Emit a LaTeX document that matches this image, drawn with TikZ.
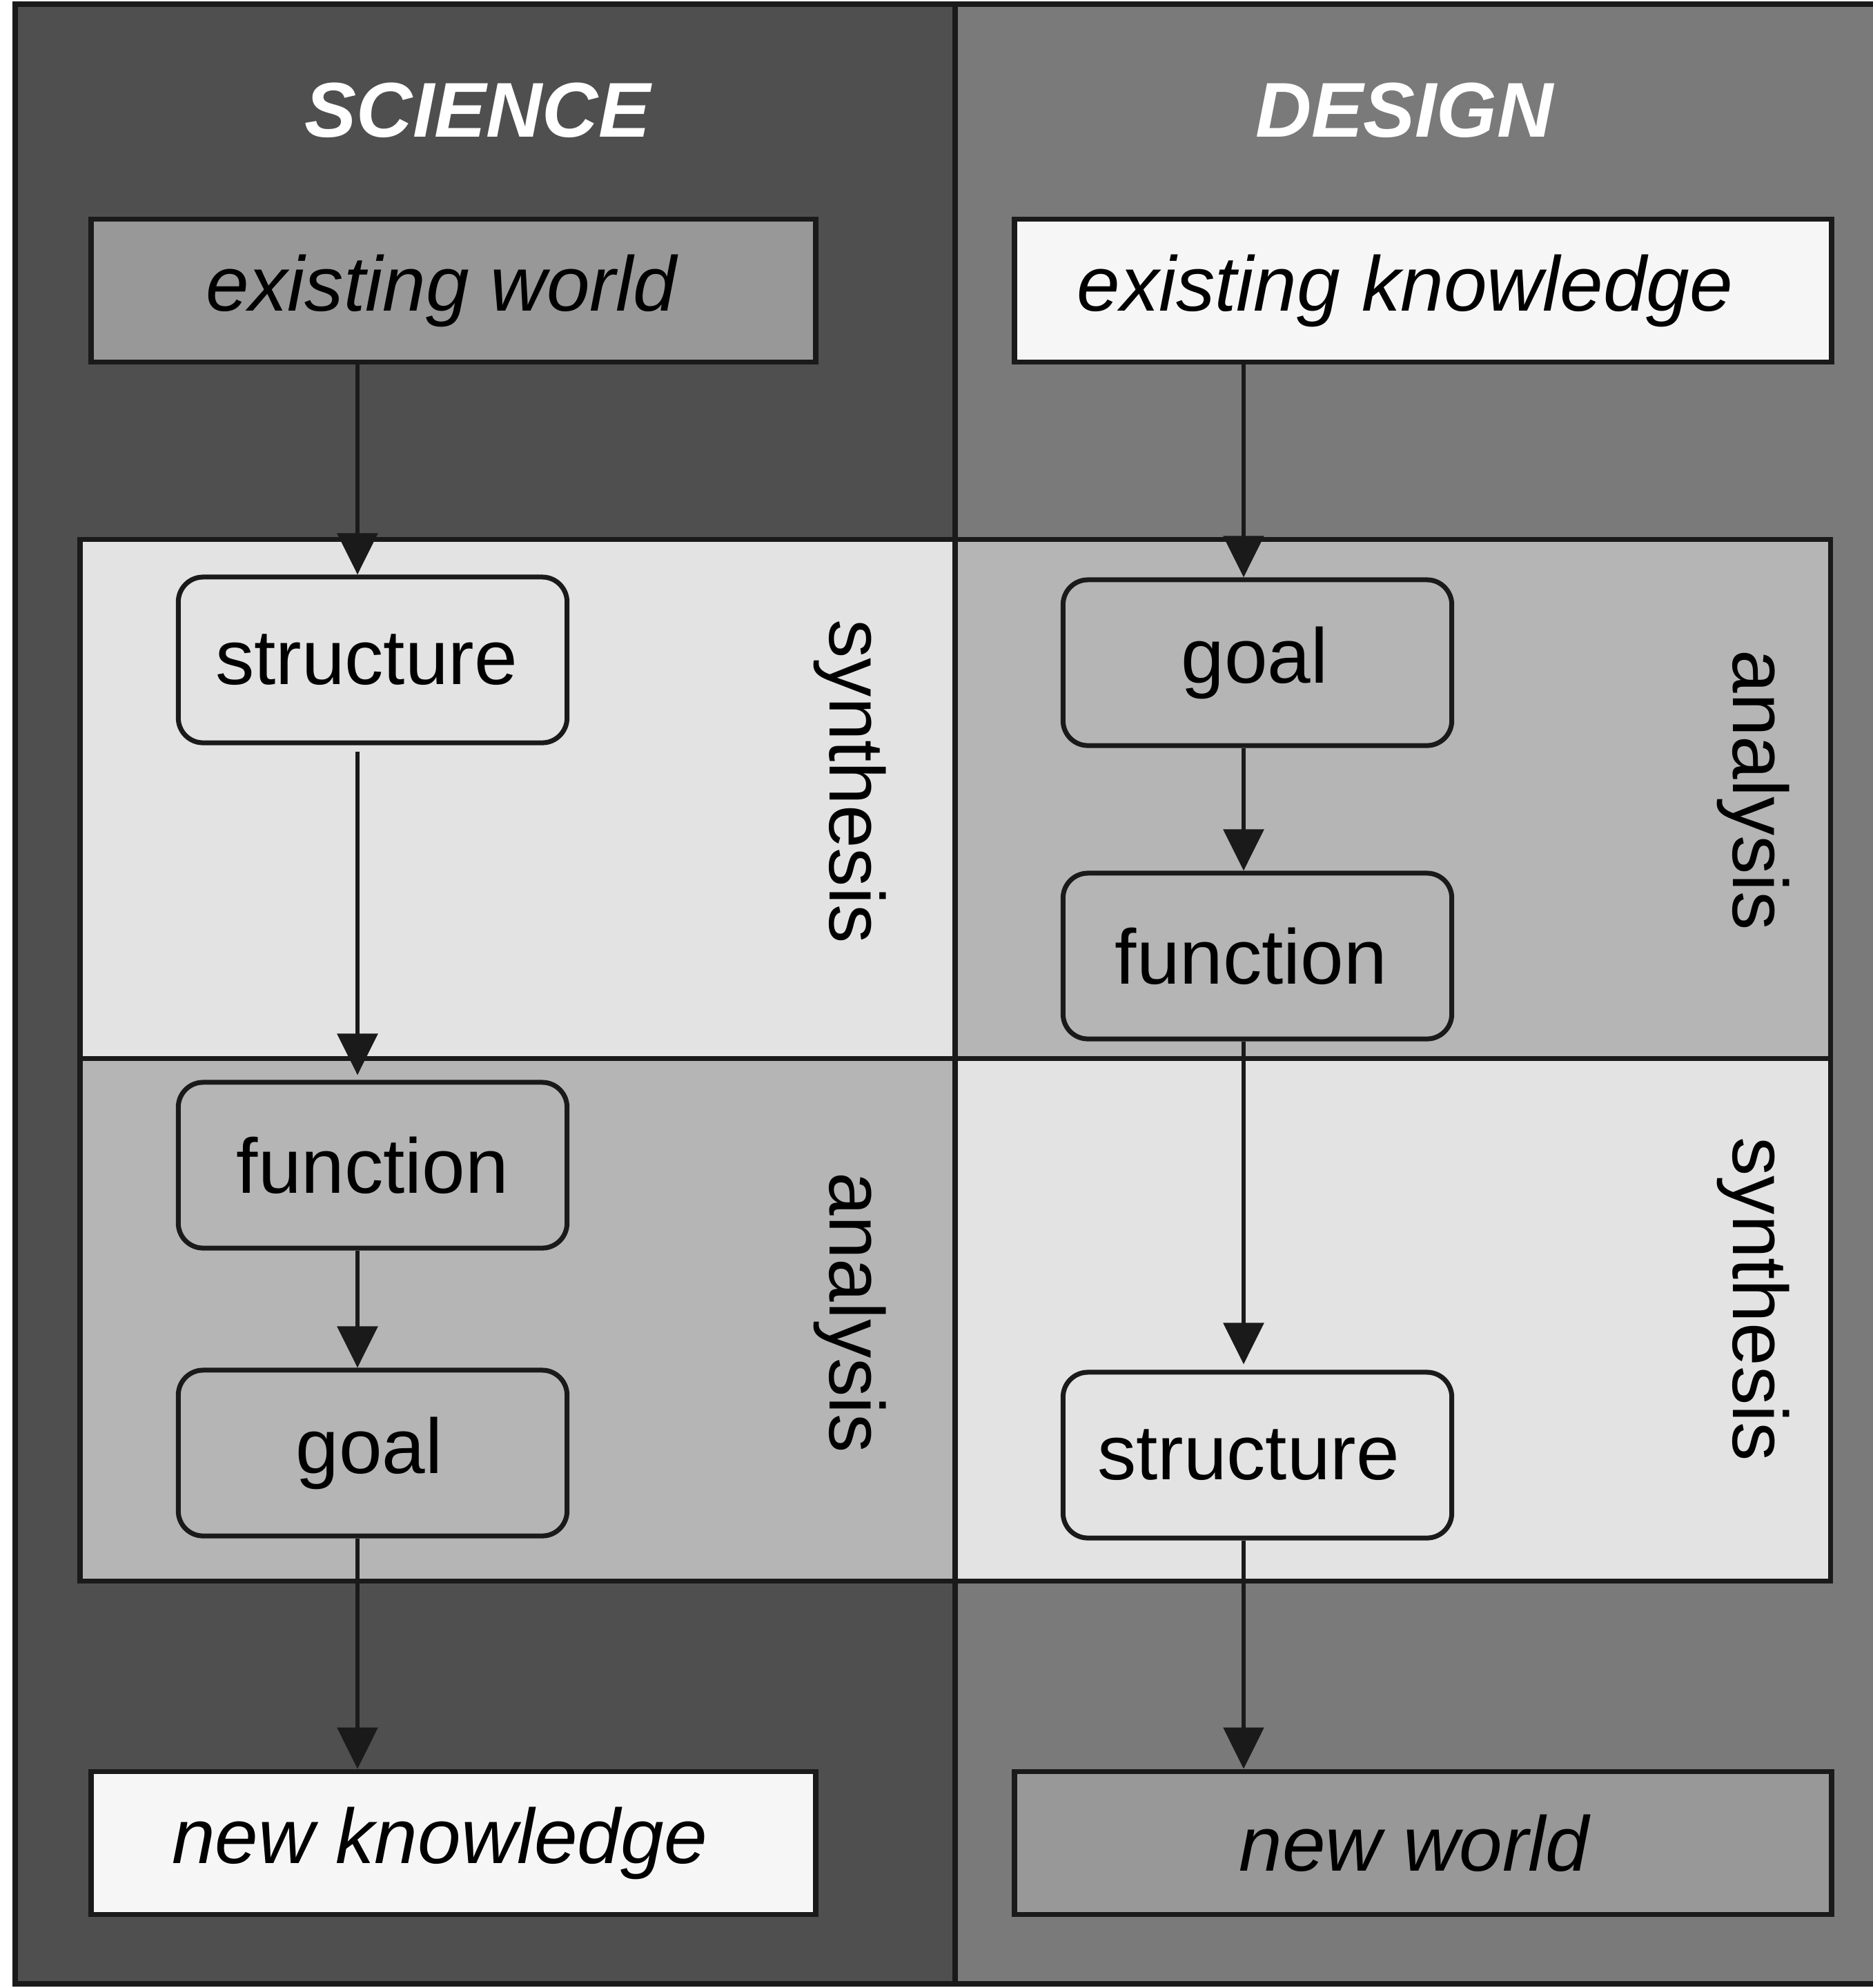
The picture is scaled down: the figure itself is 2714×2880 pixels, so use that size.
\documentclass[tikz,border=0pt]{standalone}
\usepackage{fontspec}
\setmainfont{Liberation Sans}
\usetikzlibrary{arrows.meta}
\definecolor{pdark}{RGB}{79,79,79}
\definecolor{pright}{RGB}{122,122,122}
\definecolor{blight}{RGB}{227,227,227}
\definecolor{bmid}{RGB}{181,181,181}
\definecolor{bworld}{RGB}{152,152,152}
\definecolor{bknow}{RGB}{246,246,246}
\definecolor{ink}{RGB}{26,26,26}
\begin{document}
\begin{tikzpicture}[x=0.01cm,y=-0.01cm,
  every node/.style={font=\fontsize{32}{38}\selectfont},
  rectbox/.style={draw=ink, line width=2.2pt, inner sep=0pt, minimum height=2.07cm,
    font=\fontsize{32}{38}\selectfont\itshape},
  stagebox/.style={draw=ink, line width=2pt, rounded corners=0.36cm, inner sep=0pt,
    minimum width=5.63cm, minimum height=2.4cm},
  flow/.style={draw=ink, line width=1.7pt, -{Triangle[width=0.58cm,length=0.6cm]}},
  phase/.style={rotate=-90, inner sep=0pt},
  titletext/.style={text=white, inner sep=0pt, font=\fontsize{32}{38}\selectfont\bfseries\itshape},
  frameline/.style={draw=ink, line width=2.4pt},
  bandline/.style={draw=ink, line width=2pt}]
\useasboundingbox (0,0) rectangle (2714,2880);
% panels
\fill[pdark] (22,6) rectangle (1384,2874);
\fill[pright] (1384,6) rectangle (2730,2874);
% bands
\fill[blight] (116,781) rectangle (1384,1533);
\fill[bmid] (116,1533) rectangle (1384,2290);
\fill[bmid] (1384,781) rectangle (2652,1533);
\fill[blight] (1384,1533) rectangle (2652,2290);
\draw[bandline] (116,781) rectangle (2652,2290);
\draw[bandline] (116,1533) -- (2652,1533);
% frame
\draw[frameline] (2730,6) -- (22,6) -- (22,2874) -- (2730,2874);
\draw[frameline] (1384,6) -- (1384,2874);
% titles
\node[titletext] (sci) at (692,160) {SCIENCE};
\node[titletext] (des) at (2035,160) {DESIGN};
% outer boxes
\node[rectbox, fill=bworld, minimum width=10.5cm] (ew) at (657,421) {existing world\kern0.36cm\relax};
\node[rectbox, fill=bknow, minimum width=11.84cm] (ek) at (2062,421) {existing knowledge\kern0.52cm\relax};
\node[rectbox, fill=bknow, minimum width=10.5cm] (nk) at (657,2670) {new knowledge\kern0.4cm\relax};
\node[rectbox, fill=bworld, minimum width=11.84cm] (nw) at (2062,2670) {new world\kern0.26cm\relax};
% stage boxes left
\node[stagebox, fill=blight] (sL) at (540,956) {structure\kern0.18cm\relax};
\node[stagebox, fill=bmid] (fL) at (540,1688) {function};
\node[stagebox, fill=bmid] (gL) at (540,2105) {goal\kern0.1cm\relax};
% stage boxes right
\node[stagebox, fill=bmid] (gR) at (1822,960) {goal\kern0.08cm\relax};
\node[stagebox, fill=bmid] (fR) at (1822,1385) {function\kern0.18cm\relax};
\node[stagebox, fill=blight] (sR) at (1822,2108) {structure\kern0.26cm\relax};
% phase labels
\node[phase] (synL) at (1232,1132) {synthesis};
\node[phase] (anaL) at (1232,1902) {analysis};
\node[phase] (anaR) at (2541,1145) {analysis};
\node[phase] (synR) at (2541,1882) {synthesis};
% arrows
\coordinate (axL) at (518,0);
\coordinate (axR) at (1802,0);
\draw[flow] (ew.south -| axL) -- (sL.north -| axL);
\draw[flow] ([yshift=-0.09cm]sL.south -| axL) -- ([yshift=0.07cm]fL.north -| axL);
\draw[flow] (fL.south -| axL) -- (gL.north -| axL);
\draw[flow] (gL.south -| axL) -- (nk.north -| axL);
\draw[flow] (ek.south -| axR) -- (gR.north -| axR);
\draw[flow] (gR.south -| axR) -- (fR.north -| axR);
\draw[flow] (fR.south -| axR) -- ([yshift=0.08cm]sR.north -| axR);
\draw[flow] (sR.south -| axR) -- (nw.north -| axR);
\end{tikzpicture}
\end{document}
